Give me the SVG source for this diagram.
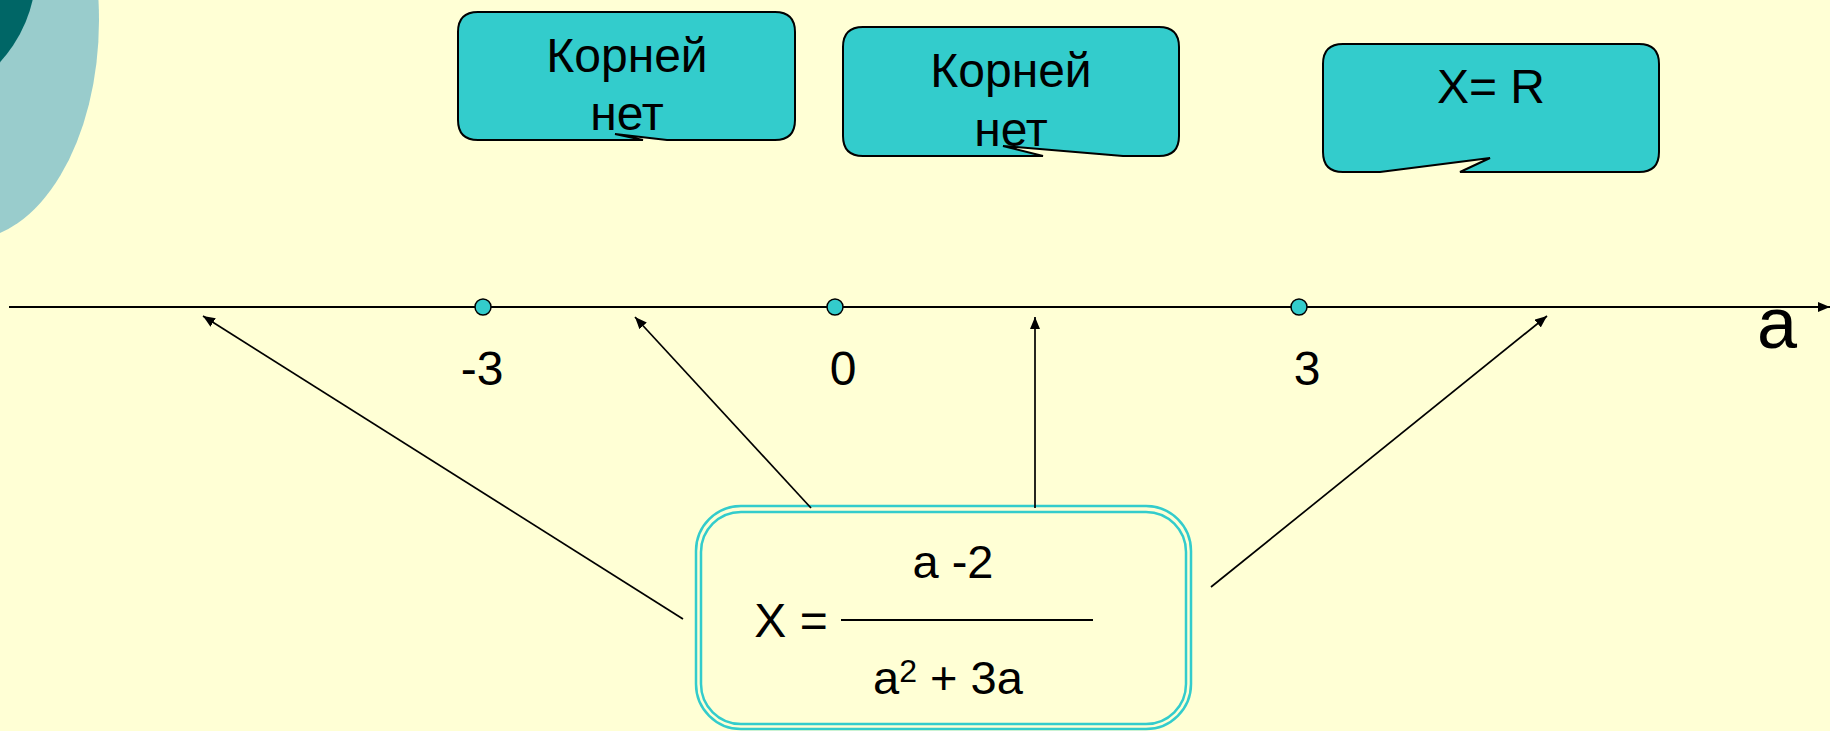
<svg xmlns="http://www.w3.org/2000/svg" width="1830" height="731" viewBox="0 0 1830 731">
<style>
.txt{font-family:"Liberation Sans",Arial,sans-serif;fill:#000}
.callout{fill:#33CCCC;stroke:#000;stroke-width:2;stroke-linejoin:miter}
.dot{fill:#33CCCC;stroke:#000;stroke-width:1.5}
.conn{stroke:#000;stroke-width:1.7;fill:none}
.dbl{fill:none;stroke:#33CCCC;stroke-width:2.5}
</style>
<defs>
<marker id="ah" markerUnits="userSpaceOnUse" markerWidth="14" markerHeight="10" refX="12" refY="5" orient="auto">
<path d="M0,0 L12,5 L0,10 Z" fill="#000"/>
</marker>
<marker id="axh" markerUnits="userSpaceOnUse" markerWidth="14" markerHeight="10" refX="12" refY="5" orient="auto">
<path d="M0,0 L12,5 L0,10 Z" fill="#000"/>
</marker>
</defs>
<rect x="0" y="0" width="1830" height="731" fill="#FFFFD5"/>
<g id="decor">
<ellipse cx="-33" cy="20" rx="132" ry="220" fill="#99CCCC"/>
<circle cx="-100" cy="-30" r="136" fill="#006666"/>
</g>
<g id="callout1">
<path class="callout" d="M478,12 H775 Q795,12 795,32 V120 Q795,140 775,140 H667 L615,134 L643,140 H478 Q458,140 458,120 V32 Q458,12 478,12 Z"/>
<text class="txt" x="627" y="72" font-size="48" text-anchor="middle">Корней</text>
<text class="txt" x="627" y="130" font-size="48" text-anchor="middle">нет</text>
</g>
<g id="callout2">
<path class="callout" d="M863,27 H1159 Q1179,27 1179,47 V136 Q1179,156 1159,156 H1123 L1003,146 L1043,156 H863 Q843,156 843,136 V47 Q843,27 863,27 Z"/>
<text class="txt" x="1011" y="87" font-size="48" text-anchor="middle">Корней</text>
<text class="txt" x="1011" y="146" font-size="48" text-anchor="middle">нет</text>
</g>
<g id="callout3">
<path class="callout" d="M1343,44 H1639 Q1659,44 1659,64 V152 Q1659,172 1639,172 H1460 L1490,158 L1380,172 H1343 Q1323,172 1323,152 V64 Q1323,44 1343,44 Z"/>
<text class="txt" x="1491" y="103" font-size="48" text-anchor="middle">X= R</text>
</g>
<g id="axis">
<line x1="9" y1="307" x2="1830" y2="307" stroke="#000" stroke-width="2" marker-end="url(#axh)"/>
<text class="txt" x="1777" y="348" font-size="72" text-anchor="middle">a</text>
</g>
<g id="point-minus3">
<circle class="dot" cx="483" cy="307" r="8"/>
<text class="txt" x="482" y="385" font-size="48" text-anchor="middle">-3</text>
</g>
<g id="point-0">
<circle class="dot" cx="835" cy="307" r="8"/>
<text class="txt" x="843" y="385" font-size="48" text-anchor="middle">0</text>
</g>
<g id="point-3">
<circle class="dot" cx="1299" cy="307" r="8"/>
<text class="txt" x="1307" y="385" font-size="48" text-anchor="middle">3</text>
</g>
<g id="formula">
<rect class="dbl" x="696" y="506" width="495" height="223" rx="45"/>
<rect class="dbl" x="701" y="512" width="485" height="212" rx="40"/>
<text class="txt" x="791" y="637" font-size="48" text-anchor="middle">X =</text>
<line x1="841" y1="620" x2="1093" y2="620" stroke="#000" stroke-width="2"/>
<text class="txt" x="953" y="578" font-size="47" text-anchor="middle">a -2</text>
<text class="txt" x="873" y="694" font-size="47">a<tspan font-size="32" dy="-12">2</tspan><tspan dy="12"> + 3a</tspan></text>
</g>
<g id="connectors">
<line class="conn" x1="683" y1="619" x2="203" y2="316" marker-end="url(#ah)"/>
<line class="conn" x1="811" y1="508" x2="635" y2="317" marker-end="url(#ah)"/>
<line class="conn" x1="1035" y1="508" x2="1035" y2="317" marker-end="url(#ah)"/>
<line class="conn" x1="1211" y1="587" x2="1547" y2="316" marker-end="url(#ah)"/>
</g>
</svg>
